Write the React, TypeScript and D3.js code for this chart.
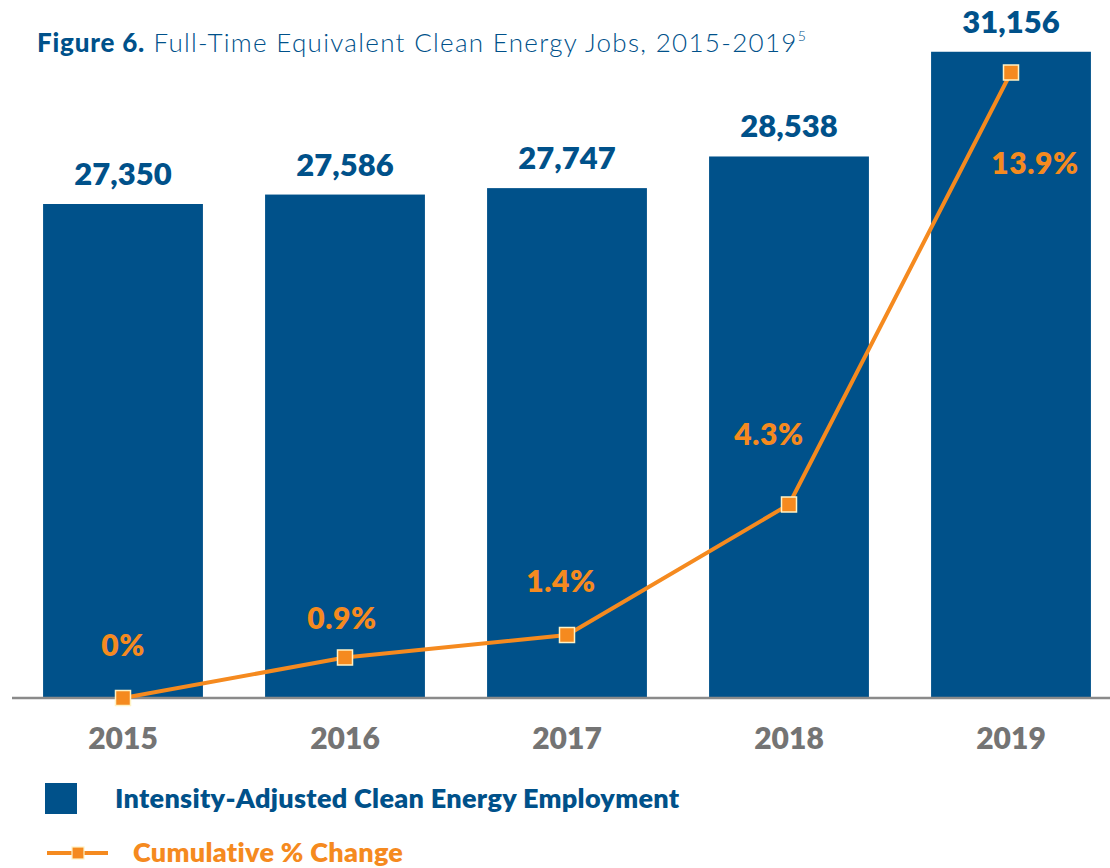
import React, { useEffect, useRef } from "react";
import * as d3 from "d3";

const years = ["2015", "2016", "2017", "2018", "2019"];
const jobs = [27350, 27586, 27747, 28538, 31156];
const pctChange = [0, 0.9, 1.4, 4.3, 13.9];
const pctLabels = ["0%", "0.9%", "1.4%", "4.3%", "13.9%"];

// label nudges relative to each marker (dx, dy)
const pctLabelNudge: [number, number][] = [
  [0, -42],
  [-3, -29],
  [-6, -43],
  [-20, -60],
  [24, 101],
];

const BLUE = "#00518a";
const ORANGE = "#f58a1f";
const GRAY = "#747474";
const FONT = "Lato, 'Open Sans', sans-serif";

const App: React.FC = () => {
  const svgRef = useRef<SVGSVGElement | null>(null);

  useEffect(() => {
    const width = 1110;
    const height = 868;
    const baseY = 698;

    const svg = d3
      .select(svgRef.current)
      .attr("width", width)
      .attr("height", height)
      .attr("viewBox", `0 0 ${width} ${height}`);

    svg.selectAll("*").remove();

    const x = d3
      .scaleBand<string>()
      .domain(years)
      .range([12, 1122])
      .paddingInner(0.28)
      .paddingOuter(0.14);

    const y = d3.scaleLinear().domain([15000, 32000]).range([baseY, 18]);
    const yPct = d3.scaleLinear().domain([0, 15]).range([baseY, 23]);

    const cx = (i: number) => (x(years[i]) as number) + x.bandwidth() / 2;

    // title
    const title = svg
      .append("text")
      .attr("x", 37)
      .attr("y", 52)
      .style("font-family", FONT)
      .style("font-size", "26px")
      .attr("fill", BLUE);
    title
      .append("tspan")
      .attr("font-weight", 900)
      .style("letter-spacing", "0.8px")
      .text("Figure 6.");
    title
      .append("tspan")
      .attr("font-weight", 300)
      .style("letter-spacing", "1.3px")
      .text(" Full-Time Equivalent Clean Energy Jobs, 2015-2019");
    title
      .append("tspan")
      .attr("font-weight", 300)
      .attr("dy", -11)
      .style("font-size", "14px")
      .text("5");

    // bars
    svg
      .append("g")
      .selectAll("rect")
      .data(jobs)
      .join("rect")
      .attr("x", (_, i) => x(years[i]) as number)
      .attr("y", (d) => y(d))
      .attr("width", x.bandwidth())
      .attr("height", (d) => baseY - y(d))
      .attr("fill", BLUE);

    // bar value labels
    svg
      .append("g")
      .selectAll("text")
      .data(jobs)
      .join("text")
      .attr("x", (_, i) => cx(i))
      .attr("y", (d) => y(d) - 19)
      .attr("text-anchor", "middle")
      .style("font-family", FONT)
      .style("font-size", "31px")
      .attr("font-weight", 800)
      .attr("fill", BLUE)
      .text((d) => d3.format(",")(d));

    // baseline
    svg
      .append("line")
      .attr("x1", 12)
      .attr("x2", width)
      .attr("y1", baseY)
      .attr("y2", baseY)
      .attr("stroke", "#8a8a8a")
      .attr("stroke-width", 2.5);

    // x axis labels
    svg
      .append("g")
      .selectAll("text")
      .data(years)
      .join("text")
      .attr("x", (_, i) => cx(i))
      .attr("y", 749)
      .attr("text-anchor", "middle")
      .style("font-family", FONT)
      .style("font-size", "30px")
      .attr("font-weight", 800)
      .attr("fill", GRAY)
      .text((d) => d);

    // cumulative line
    const line = d3
      .line<number>()
      .x((_, i) => cx(i))
      .y((d) => yPct(d));

    svg
      .append("path")
      .datum(pctChange)
      .attr("fill", "none")
      .attr("stroke", ORANGE)
      .attr("stroke-width", 4)
      .attr("d", line);

    svg
      .append("g")
      .selectAll("rect")
      .data(pctChange)
      .join("rect")
      .attr("x", (_, i) => cx(i) - 7.5)
      .attr("y", (d) => yPct(d) - 7.5)
      .attr("width", 15)
      .attr("height", 15)
      .attr("fill", ORANGE)
      .attr("stroke", "#fff2c4")
      .attr("stroke-width", 1.5);

    svg
      .append("g")
      .selectAll("text")
      .data(pctChange)
      .join("text")
      .attr("x", (_, i) => cx(i) + pctLabelNudge[i][0])
      .attr("y", (d, i) => yPct(d) + pctLabelNudge[i][1])
      .attr("text-anchor", "middle")
      .style("font-family", FONT)
      .style("font-size", "30px")
      .style("letter-spacing", "0.6px")
      .attr("font-weight", 800)
      .attr("fill", ORANGE)
      .text((_, i) => pctLabels[i]);

    // legend
    const legend = svg.append("g");
    legend
      .append("rect")
      .attr("x", 45)
      .attr("y", 783)
      .attr("width", 32)
      .attr("height", 31)
      .attr("fill", BLUE);
    legend
      .append("text")
      .attr("x", 115)
      .attr("y", 808)
      .style("font-family", FONT)
      .style("font-size", "27px")
      .style("letter-spacing", "0.3px")
      .attr("font-weight", 800)
      .attr("fill", BLUE)
      .text("Intensity-Adjusted Clean Energy Employment");

    legend
      .append("line")
      .attr("x1", 47)
      .attr("x2", 108)
      .attr("y1", 853)
      .attr("y2", 853)
      .attr("stroke", ORANGE)
      .attr("stroke-width", 4);
    legend
      .append("rect")
      .attr("x", 72)
      .attr("y", 847)
      .attr("width", 12)
      .attr("height", 12)
      .attr("fill", ORANGE)
      .attr("stroke", "#fff2c4")
      .attr("stroke-width", 1.2);
    legend
      .append("text")
      .attr("x", 133)
      .attr("y", 862)
      .style("font-family", FONT)
      .style("font-size", "27px")
      .style("letter-spacing", "0.3px")
      .attr("font-weight", 800)
      .attr("fill", ORANGE)
      .text("Cumulative % Change");
  }, []);

  return (
    <div style={{ position: "absolute", left: 0, top: 0, background: "#fff" }}>
      <svg ref={svgRef} style={{ display: "block" }} />
    </div>
  );
};

export default App;
